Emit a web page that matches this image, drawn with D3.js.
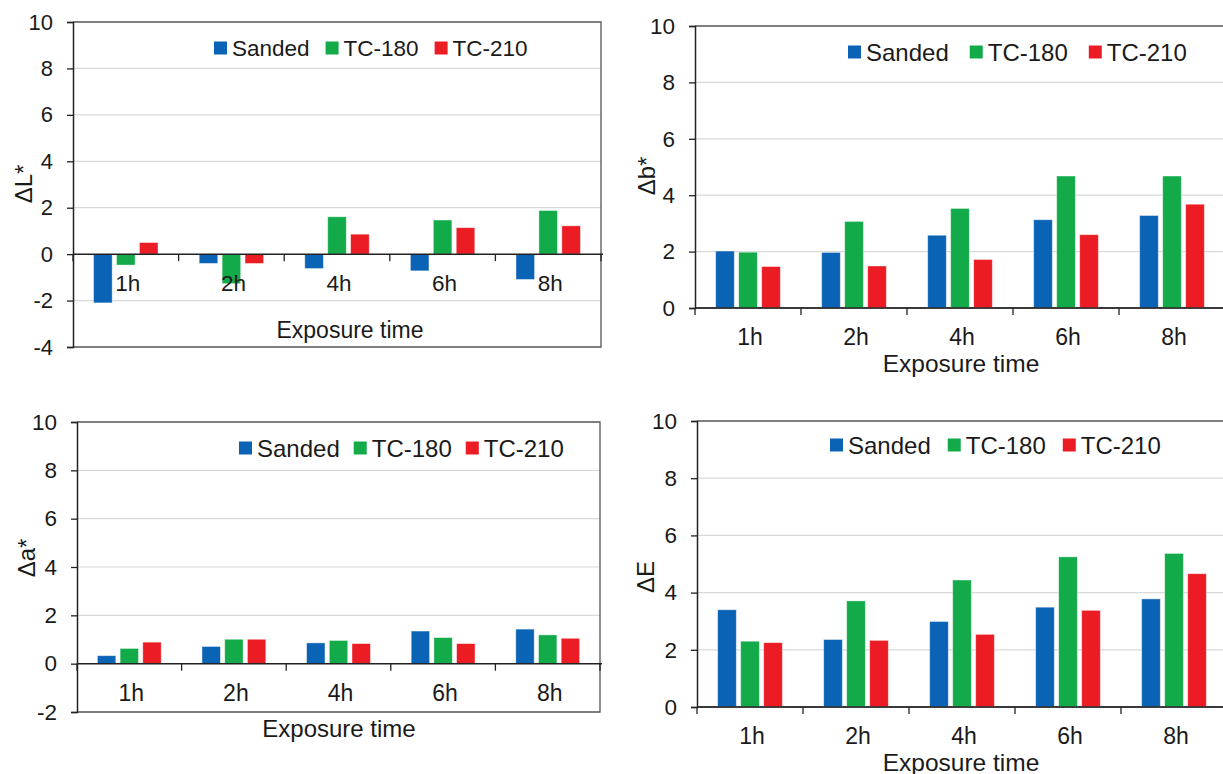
<!DOCTYPE html>
<html>
<head>
<meta charset="utf-8">
<script src="https://cdn.jsdelivr.net/npm/d3@7"></script>
<style>
  html, body { margin: 0; padding: 0; background: #fff; }
  svg { display: block; }
  text { font-family: "Liberation Sans", Arial, sans-serif; fill: #1a1a1a; }
</style>
</head>
<body>
<svg id="chart" width="1223" height="774"></svg>
<script>
// Exposure times and sample treatments
const categories = ["1h", "2h", "4h", "6h", "8h"];
const seriesNames = ["Sanded", "TC-180", "TC-210"];
const seriesColors = ["#0b63b5", "#13ab4a", "#ec1c24"];

// ΔL*
const dL_sanded = [-2.10, -0.40, -0.62, -0.72, -1.09];
const dL_tc180  = [-0.47, -1.27, 1.61, 1.47, 1.88];
const dL_tc210  = [0.50, -0.40, 0.86, 1.14, 1.22];

// Δb*
const db_sanded = [2.02, 1.97, 2.58, 3.13, 3.28];
const db_tc180  = [1.98, 3.07, 3.53, 4.68, 4.68];
const db_tc210  = [1.47, 1.49, 1.72, 2.60, 3.68];

// Δa*
const da_sanded = [0.33, 0.71, 0.86, 1.35, 1.43];
const da_tc180  = [0.63, 1.01, 0.96, 1.08, 1.19];
const da_tc210  = [0.89, 1.01, 0.83, 0.83, 1.05];

// ΔE
const dE_sanded = [3.40, 2.36, 2.99, 3.49, 3.78];
const dE_tc180  = [2.30, 3.71, 4.44, 5.25, 5.37];
const dE_tc210  = [2.25, 2.33, 2.54, 3.38, 4.66];

const yTicksL = [-4, -2, 0, 2, 4, 6, 8, 10];
const yTicksA = [-2, 0, 2, 4, 6, 8, 10];
const yTicksPos = [0, 2, 4, 6, 8, 10];

const svg = d3.select("#chart");

function drawPanel(p) {
  const g = svg.append("g");
  const x = d3.scaleBand().domain(categories).range([p.left, p.right]).paddingInner(0).paddingOuter(0);
  const bw = x.bandwidth();
  const x1 = d3.scaleBand().domain(seriesNames)
    .range([bw * 0.195, bw * 0.805]).paddingInner(0.19).paddingOuter(0);
  const y = d3.scaleLinear().domain(p.domain).range([p.bottom, p.top]);

  // horizontal gridlines
  g.append("g").selectAll("line")
    .data(p.ticks.filter(t => t !== 0 && t !== p.domain[0] && t !== p.domain[1]))
    .join("line")
    .attr("x1", p.left).attr("x2", p.right)
    .attr("y1", d => y(d)).attr("y2", d => y(d))
    .attr("stroke", "#d9d9d9").attr("stroke-width", 1.2);

  // plot frame (top, right, bottom)
  g.append("path")
    .attr("d", `M${p.left},${y(p.domain[1])}H${p.right}V${y(p.domain[0])}H${p.left}`)
    .attr("fill", "none").attr("stroke", "#555").attr("stroke-width", 1.3);

  // bars
  const rows = categories.map((c, i) => ({ c, vals: p.series.map((s, k) => ({ name: seriesNames[k], v: s[i], k })) }));
  g.append("g").selectAll("g").data(rows).join("g")
    .attr("transform", d => `translate(${x(d.c)},0)`)
    .selectAll("rect").data(d => d.vals).join("rect")
    .attr("x", d => x1(d.name))
    .attr("width", x1.bandwidth())
    .attr("y", d => Math.min(y(d.v), y(0)))
    .attr("height", d => Math.abs(y(d.v) - y(0)))
    .attr("fill", d => seriesColors[d.k])
    .attr("stroke", "#ffffff").attr("stroke-opacity", 0.5).attr("stroke-width", 0.8);

  // y axis (plain hyphen for negative labels)
  const yAxis = d3.axisLeft(y).tickValues(p.ticks).tickSize(6).tickPadding(14).tickFormat(d => String(d));
  const ya = g.append("g").attr("transform", `translate(${p.left},0)`).call(yAxis);
  ya.select(".domain").attr("stroke", "#222").attr("stroke-width", 1.5);
  ya.selectAll(".tick line").attr("stroke", "#222").attr("stroke-width", 1.3);
  ya.selectAll(".tick text")
    .style("font-size", p.tickFont + "px")
    .style("font-family", '"Liberation Sans", Arial, sans-serif')
    .attr("fill", "#1a1a1a");

  // category axis at zero with boundary ticks
  g.append("line")
    .attr("x1", p.left).attr("x2", p.right + 2)
    .attr("y1", y(0)).attr("y2", y(0))
    .attr("stroke", "#222").attr("stroke-width", 1.5);
  const bounds = categories.map(c => x(c)).concat([p.right]);
  g.append("g").selectAll("line").data(bounds).join("line")
    .attr("x1", d => d).attr("x2", d => d)
    .attr("y1", y(0)).attr("y2", y(0) + 7)
    .attr("stroke", "#222").attr("stroke-width", 1.3);

  // category labels
  g.append("g").selectAll("text").data(categories).join("text")
    .attr("x", d => x(d) + bw / 2 + 2)
    .attr("y", y(0) + 29)
    .attr("text-anchor", "middle")
    .attr("dominant-baseline", "central")
    .style("font-size", p.catFont + "px")
    .text(d => d);

  // axis titles
  g.append("text")
    .attr("x", p.xTitle[0]).attr("y", p.xTitle[1])
    .attr("text-anchor", "middle").attr("dominant-baseline", "central")
    .style("font-size", p.xTitleFont + "px")
    .text("Exposure time");
  g.append("text")
    .attr("transform", `translate(${p.yTitle[0]},${p.yTitle[1]}) rotate(-90)`)
    .attr("text-anchor", "middle").attr("dominant-baseline", "central")
    .style("font-size", p.yTitleFont + "px")
    .text(p.yLabel);

  // legend
  const lg = g.append("g");
  let cx = p.legend[0];
  seriesNames.forEach((name, k) => {
    lg.append("rect")
      .attr("x", cx).attr("y", p.legend[1] - 6.5)
      .attr("width", 13).attr("height", 13)
      .attr("fill", seriesColors[k]);
    const t = lg.append("text")
      .attr("x", cx + 18).attr("y", p.legend[1])
      .attr("dominant-baseline", "central")
      .style("font-size", p.legendFont + "px")
      .text(name);
    cx += 18 + t.node().getComputedTextLength() + p.legendGap;
  });
}

drawPanel({
  left: 73, right: 601, top: 22, bottom: 347, domain: [-4, 10], ticks: yTicksL,
  series: [dL_sanded, dL_tc180, dL_tc210], yLabel: "ΔL*",
  tickFont: 22, catFont: 22.5, xTitleFont: 23, yTitleFont: 24, legendFont: 22.5, legendGap: 16,
  xTitle: [350, 330], yTitle: [23, 184], legend: [214, 48]
});

drawPanel({
  left: 695, right: 1225, top: 26, bottom: 308, domain: [0, 10], ticks: yTicksPos,
  series: [db_sanded, db_tc180, db_tc210], yLabel: "Δb*",
  tickFont: 22.5, catFont: 23, xTitleFont: 24.5, yTitleFont: 24, legendFont: 24, legendGap: 21,
  xTitle: [961, 363], yTitle: [646, 176], legend: [848, 52]
});

drawPanel({
  left: 77, right: 600, top: 422, bottom: 712, domain: [-2, 10], ticks: yTicksA,
  series: [da_sanded, da_tc180, da_tc210], yLabel: "Δa*",
  tickFont: 22.5, catFont: 23, xTitleFont: 24, yTitleFont: 24, legendFont: 24, legendGap: 14,
  xTitle: [339, 728], yTitle: [26, 558], legend: [239, 448]
});

drawPanel({
  left: 697, right: 1227, top: 421, bottom: 707, domain: [0, 10], ticks: yTicksPos,
  series: [dE_sanded, dE_tc180, dE_tc210], yLabel: "ΔE",
  tickFont: 22.5, catFont: 23, xTitleFont: 24.5, yTitleFont: 24, legendFont: 24, legendGap: 17,
  xTitle: [961, 762], yTitle: [645, 577], legend: [830, 445]
});
</script>
</body>
</html>
